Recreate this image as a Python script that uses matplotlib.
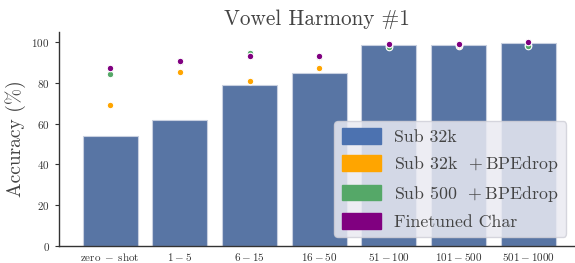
import matplotlib
matplotlib.use("Agg")
import matplotlib.pyplot as plt
import numpy as np
from matplotlib.patches import Patch

plt.rcParams['font.family'] = 'serif'
plt.rcParams['font.serif'] = ['cmr10']
plt.rcParams['mathtext.fontset'] = 'cm'
plt.rcParams['axes.unicode_minus'] = False
plt.rcParams['axes.formatter.use_mathtext'] = True

categories = ['zero-shot', '1-5', '6-15', '16-50', '51-100', '101-500', '501-1000']
sub32k = [53.8, 62.0, 78.9, 84.9, 98.9, 98.9, 99.8]
sub32k_bpedrop = [69.1, 85.2, 81.1, 87.2, 98.0, 98.3, 98.6]
sub500_bpedrop = [84.2, 90.5, 94.5, 92.8, 97.7, 98.6, 98.4]
finetuned_char = [87.2, 91.0, 93.2, 93.2, 99.0, 99.0, 100.0]


def fmt(c):
    a, b = c.split('-')
    if a.isdigit():
        return '$' + a + '-' + b + '$'
    return r'$\mathrm{' + a + r'}\;-\;\mathrm{' + b + '}$'


labels = [fmt(c) for c in categories]

fig, ax = plt.subplots(figsize=(5.75, 2.63), dpi=100)
x = np.arange(len(categories))
ax.bar(x, sub32k, width=0.79, color='#5875A4', edgecolor='#c8d0e0', linewidth=0.8, zorder=1)
ms = 22
ax.scatter(x, sub32k_bpedrop, s=ms, color='#FFA500', edgecolor='white', linewidth=0.8, zorder=3)
ax.scatter(x, sub500_bpedrop, s=ms, color='#55A868', edgecolor='white', linewidth=0.8, zorder=4)
ax.scatter(x, finetuned_char, s=ms, color='#800080', edgecolor='white', linewidth=0.8, zorder=5)

ax.set_xticks(x)
ax.set_xticklabels(labels, fontsize=8)
ax.set_ylim(0, 105)
ax.set_xlim(-0.74, 6.67)
ax.set_yticks([0, 20, 40, 60, 80, 100])
ax.tick_params(axis='y', labelsize=8, length=3, width=0.8, color='#333333', labelcolor='#333333')
ax.tick_params(axis='x', length=0, labelcolor='#333333')
ax.set_ylabel(r'Accuracy (%)', fontsize=14, color='#444444')
ax.set_title('Vowel Harmony #1', fontsize=15.3, color='#444444', pad=5)
for s in ['top', 'right']:
    ax.spines[s].set_visible(False)
for s in ['left', 'bottom']:
    ax.spines[s].set_color('#333333')
    ax.spines[s].set_linewidth(1.0)

handles = [Patch(color='#4C72B0'), Patch(color='#FFA500'), Patch(color='#55A868'), Patch(color='#800080')]
leg_labels = ['Sub 32k', r'Sub 32k $\,+$BPEdrop', r'Sub 500 $\,+$BPEdrop', 'Finetuned Char']
leg = ax.legend(handles, leg_labels, loc='lower right', fontsize=12.8, facecolor='#EAEAF2',
                framealpha=0.85, edgecolor='#d0d0d8', handlelength=2.2, handleheight=1.0,
                labelspacing=0.52, borderpad=0.4, borderaxespad=0.5, handletextpad=0.75)
for t in leg.get_texts():
    t.set_color('#444444')

fig.subplots_adjust(left=0.102, right=1.0, top=0.878, bottom=0.065)
fig.savefig('out.png', dpi=100)
